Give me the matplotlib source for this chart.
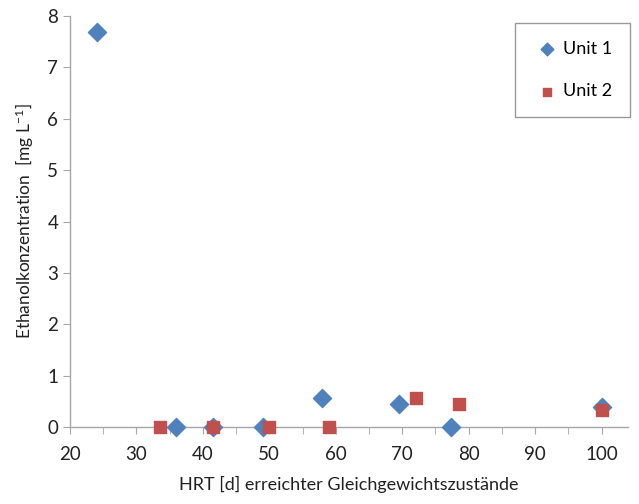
import numpy as np
import matplotlib.pyplot as plt
from matplotlib.ticker import MultipleLocator

# ---------- Data ----------
unit1_hrt = [24, 36, 41.5, 49, 58, 69.5, 77.3, 100]
unit1_eth = [7.7, 0.0, 0.0, 0.0, 0.57, 0.45, 0.0, 0.38]

unit2_hrt = [33.5, 41.5, 50, 59, 72, 78.5, 100]
unit2_eth = [0.0, 0.0, 0.0, 0.0, 0.57, 0.44, 0.33]

BLUE = "#4F81BD"
RED = "#C0504D"
GRAY = "#A6A6A6"

plt.rcParams["font.family"] = ["Lato", "DejaVu Sans"]
plt.rcParams["mathtext.default"] = "regular"

fig = plt.figure(figsize=(6.39, 5.04), dpi=100)
ax = fig.add_axes([0.1095, 0.153, 0.8735, 0.815])

ax.scatter(unit1_hrt, unit1_eth, marker="D", s=85, color=BLUE, label="Unit 1",
           zorder=3, clip_on=False)
ax.scatter(unit2_hrt, unit2_eth, marker="s", s=85, color=RED, label="Unit 2",
           zorder=3, clip_on=False)

ax.set_xlim(20, 104)
ax.set_ylim(0, 8)
ax.xaxis.set_major_locator(MultipleLocator(10))
ax.xaxis.set_minor_locator(MultipleLocator(5))
ax.yaxis.set_major_locator(MultipleLocator(1))

for side in ["top", "right"]:
    ax.spines[side].set_visible(False)
for side in ["left", "bottom"]:
    ax.spines[side].set_color(GRAY)
    ax.spines[side].set_linewidth(1.0)

ax.tick_params(axis="both", which="both", color=GRAY, direction="out", labelsize=13.5, labelcolor="#222222")
ax.tick_params(axis="both", which="major", length=5)
ax.tick_params(axis="x", which="minor", length=5)
ax.tick_params(axis="x", pad=9)

ax.set_xlabel("HRT [d] erreichter Gleichgewichtszustände", fontsize=13, color="#222222", labelpad=9)
ax.set_ylabel("Ethanolkonzentration  [mg L$^{-1}$]", fontsize=12.5, color="#222222", labelpad=8)

leg = fig.legend(loc="upper right", bbox_to_anchor=(1.0, 0.972), frameon=True, fancybox=False,
                 edgecolor="#808080", fontsize=13, handletextpad=0.05, labelspacing=1.45,
                 borderpad=1.0, handlelength=1.6, scatterpoints=1, markerscale=0.7)
leg.get_frame().set_linewidth(1.0)

fig.savefig("out.png", dpi=100)
